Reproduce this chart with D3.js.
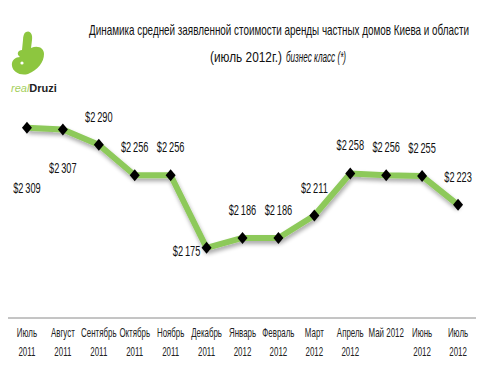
<!DOCTYPE html>
<html>
<head>
<meta charset="utf-8">
<script src="https://cdn.jsdelivr.net/npm/d3@7"></script>
<style>
  html, body { margin: 0; padding: 0; background: #fff; }
  svg { display: block; }
</style>
</head>
<body>
<div id="chart"></div>
<script>
// данные
const months = ["Июль", "Август", "Сентябрь", "Октябрь", "Ноябрь", "Декабрь", "Январь",
                "Февраль", "Март", "Апрель", "Май 2012", "Июнь", "Июль"];
const years = ["2011", "2011", "2011", "2011", "2011", "2011", "2012",
               "2012", "2012", "2012", "", "2012", "2012"];
const rent = [2309, 2307, 2290, 2256, 2256, 2175, 2186, 2186, 2211, 2258, 2256, 2255, 2223];
// где ставить подпись значения
const labelPos = ["below2", "below", "above", "above", "above", "left", "above",
                  "above", "above", "above", "above", "above", "above"];

const width = 480, height = 378;
const font = "'Liberation Sans', Arial, sans-serif";
const narrow = 0.66; // сжатие шрифта по горизонтали (как Calibri в оригинале)

const svg = d3.select("#chart").append("svg")
    .attr("width", width)
    .attr("height", height)
    .style("font-family", font);

// сжать текст по горизонтали вокруг его точки привязки
function squeeze(sel, sx) {
    sel.attr("transform", function () {
        const tx = +this.getAttribute("x"), ty = +this.getAttribute("y");
        return `translate(${tx},${ty}) scale(${sx},1) translate(${-tx},${-ty})`;
    });
}

// тень под линией
const defs = svg.append("defs");
const f = defs.append("filter").attr("id", "shadow")
    .attr("x", "-10%").attr("y", "-20%").attr("width", "120%").attr("height", "160%");
f.append("feGaussianBlur").attr("in", "SourceAlpha").attr("stdDeviation", 2).attr("result", "b");
f.append("feOffset").attr("in", "b").attr("dx", 1).attr("dy", 3).attr("result", "o");
f.append("feComponentTransfer").attr("in", "o").attr("result", "s")
    .append("feFuncA").attr("type", "linear").attr("slope", 0.35);
const m = f.append("feMerge");
m.append("feMergeNode").attr("in", "s");
m.append("feMergeNode").attr("in", "SourceGraphic");

// шкалы
const x = d3.scaleBand().domain(d3.range(rent.length)).range([9, 476]);
const cx = i => x(i) + x.bandwidth() / 2;
const y = d3.scaleLinear().domain([2100, 2350]).range([315, 91]);

const fmt = d3.formatLocale({ decimal: ",", thousands: "\u2009", grouping: [3], currency: ["$", ""] }).format("$,.0f");

// заголовок
const title = svg.append("g").attr("fill", "#111").attr("font-size", 15);
title.append("text").attr("x", 279).attr("y", 35).attr("text-anchor", "middle")
    .attr("textLength", 380).attr("lengthAdjust", "spacingAndGlyphs")
    .text("Динамика средней заявленной стоимости аренды частных домов Киева и области");
title.append("text").attr("x", 210).attr("y", 62)
    .attr("textLength", 72).attr("lengthAdjust", "spacingAndGlyphs")
    .text("(июль 2012г.)");
title.append("text").attr("x", 286).attr("y", 62).attr("font-style", "italic")
    .attr("textLength", 60).attr("lengthAdjust", "spacingAndGlyphs")
    .text("бизнес класс (*)");

// логотип
const logo = svg.append("g").attr("transform", "translate(8,30)");
logo.append("path")
    .attr("d", "M18,2 C22,0 25,4 24,10 L23,18 C30,15 36,18 36,24 C36,32 30,40 20,44 C12,46 5,42 4,36 C3,30 8,27 12,27 C8,24 10,20 14,20 L15,10 C15,6 16,3 18,2 Z")
    .attr("fill", "#8dc63f");
logo.append("circle").attr("cx", 14).attr("cy", 33).attr("r", 1.6).attr("fill", "#fff");
const lt = logo.append("text").attr("x", 3).attr("y", 62).attr("font-size", 11);
lt.append("tspan").attr("font-style", "italic").attr("fill", "#a5cf5d").text("real");
lt.append("tspan").attr("font-weight", "bold").attr("fill", "#222").text("Druzi");

// ось X
svg.append("line")
    .attr("x1", 8).attr("x2", 476).attr("y1", 318).attr("y2", 318)
    .attr("stroke", "#8a8a8a").attr("stroke-width", 1);

const ticks = svg.append("g").attr("font-size", 12).attr("fill", "#222").attr("text-anchor", "middle");
months.forEach((mo, i) => {
    const t = ticks.append("text").attr("x", cx(i)).attr("y", 337);
    t.append("tspan").attr("x", cx(i)).text(mo);
    t.append("tspan").attr("x", cx(i)).attr("dy", 19).text(years[i]);
    squeeze(t, narrow);
});

// линия
svg.append("path")
    .datum(rent)
    .attr("fill", "none")
    .attr("stroke", "#8dc95a")
    .attr("stroke-width", 6)
    .attr("stroke-linejoin", "round")
    .attr("filter", "url(#shadow)")
    .attr("d", d3.line().x((d, i) => cx(i)).y(d => y(d)));

// маркеры-ромбы
svg.append("g").selectAll("path")
    .data(rent)
    .join("path")
    .attr("transform", (d, i) => `translate(${cx(i)},${y(d)})`)
    .attr("d", "M0,-6 L5,0 L0,6 L-5,0 Z")
    .attr("fill", "#000");

// подписи значений
svg.append("g").attr("font-size", 14).attr("fill", "#111").attr("text-anchor", "middle")
    .selectAll("text")
    .data(rent)
    .join("text")
    .attr("x", (d, i) => labelPos[i] === "left" ? cx(i) - 20 : cx(i))
    .attr("y", (d, i) => {
        const p = labelPos[i];
        if (p === "below2") return y(d) + 65;
        if (p === "below") return y(d) + 43;
        if (p === "left") return y(d) + 8;
        return y(d) - 23;
    })
    .text(d => fmt(d))
    .call(squeeze, narrow);
</script>
</body>
</html>
